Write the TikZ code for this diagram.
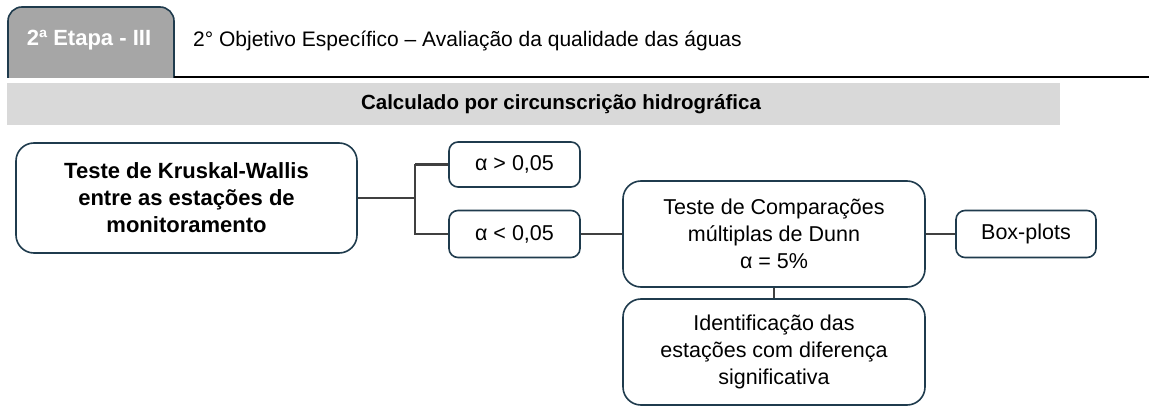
\documentclass[tikz,border=0pt]{standalone}
\usepackage{fontspec}
\setmainfont{Liberation Sans}
\usetikzlibrary{positioning}

\definecolor{boxline}{HTML}{1F3B4D}
\definecolor{tabgray}{HTML}{A6A6A6}
\definecolor{bandgray}{HTML}{D9D9D9}
\definecolor{wire}{HTML}{404040}

\begin{document}
\begin{tikzpicture}[
      x=1pt,y=-1pt,
      box/.style={draw=boxline,line width=1.6,fill=white,rounded corners=9,align=center,inner sep=0,
        font=\fontsize{21.5}{27}\selectfont},
      bigbox/.style={box,rounded corners=18},
      link/.style={draw=wire,line width=2.6}
    ]
    \useasboundingbox (0,0) rectangle (1149,406);
    % header
    \filldraw[draw=boxline,fill=tabgray,line width=1.6,rounded corners=14] (8,78) -- (8,7) -- (174,7) -- (174,78);
    \node[text=white,font=\bfseries\fontsize{22}{26}\selectfont] (etapa) at (89,40) {2ª Etapa - III};
    \node[anchor=west,inner sep=0,font=\fontsize{21}{26}\selectfont] (objetivo) at (193,41) {2° Objetivo Específico – Avaliação da qualidade das águas};
    \draw[line width=2.6] (174,77) -- (1149,77);
    \fill[bandgray] (7,83) rectangle (1060,125);
    \node[font=\bfseries\fontsize{20.5}{24}\selectfont] (escala) at (561,104) {Calculado por circunscrição hidrográfica};
    % boxes
    \node[bigbox,minimum width=341,minimum height=110,font=\bfseries\fontsize{22}{27}\selectfont]
      (kw) at (186.5,198) {Teste de Kruskal-Wallis\\entre as estações de\\monitoramento};
    \node[box,minimum width=131,minimum height=45] (gt) at (514.5,164.5) {α > 0,05};
    \node[box,minimum width=131,minimum height=47] (lt) at (514.5,234) {α < 0,05};
    \node[bigbox,minimum width=302,minimum height=106] (dunn) at (774,234) {Teste de Comparações\\múltiplas de Dunn\\α = 5\%};
    \node[box,minimum width=140,minimum height=47] (plots) at (1026,234) {Box-plots};
    \node[bigbox,minimum width=302,minimum height=106] (ident) at (774,352) {Identificação das\\estações com diferença\\significativa};
    \coordinate (split) at (415,198);
    % links
    \draw[link] (kw) -- (split);
    \draw[link] (split |- gt.west) -- (gt.west);
    \draw[link] (split |- gt.west) -- (split |- lt.west) -- (lt.west);
    \path[link]
      (lt) edge (dunn)
      (dunn) edge (plots) edge (ident)
      ;
  \end{tikzpicture}
\end{document}
